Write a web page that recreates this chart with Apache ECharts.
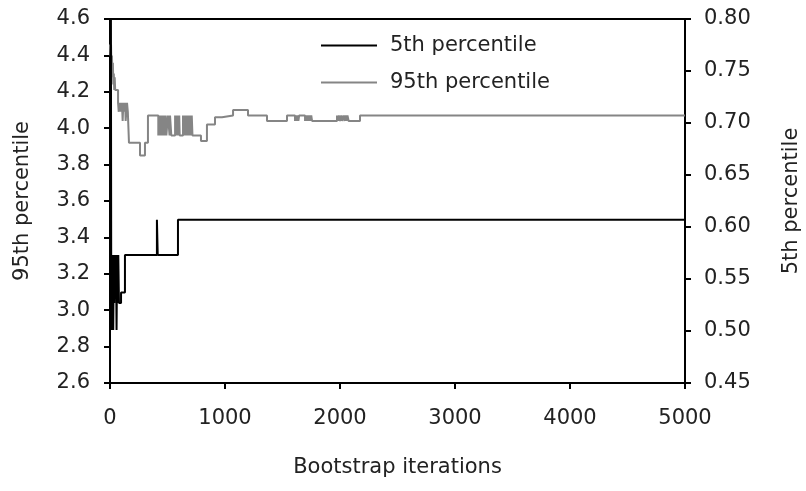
<!DOCTYPE html>
<html>
<head>
<meta charset="utf-8">
<script src="https://cdn.jsdelivr.net/npm/echarts@6/dist/echarts.min.js"></script>
<style>html,body{margin:0;padding:0;background:#fff;}#c{width:806px;height:491px;}</style>
</head>
<body>
<div id="c"></div>
<script>
// Data: [bootstrap iteration, value]
var xTicks = [0, 1000, 2000, 3000, 4000, 5000];
var leftTicks = [2.6, 2.8, 3.0, 3.2, 3.4, 3.6, 3.8, 4.0, 4.2, 4.4, 4.6];
var rightTicks = [0.45, 0.50, 0.55, 0.60, 0.65, 0.70, 0.75, 0.80];

var p5 = [
  [1,0.80],[5,0.78],[8,0.80],[11,0.501],[16,0.573],[20,0.537],[24,0.573],[28,0.501],
  [33,0.573],[37,0.527],[42,0.573],[47,0.537],[52,0.573],[57,0.501],[62,0.573],[67,0.527],
  [72,0.573],[78,0.527],[96,0.537],[130,0.573],[408,0.607],[415,0.573],[591,0.607],[5000,0.607]
];

var p95 = [
  [1,4.46],[5,4.40],[9,4.46],[13,4.33],[17,4.40],[21,4.28],[25,4.36],[29,4.24],[33,4.30],
  [37,4.21],[41,4.28],[45,4.21],[70,4.14],[76,4.09],[80,4.14],[84,4.09],[88,4.14],[92,4.09],
  [96,4.14],[100,4.09],[104,4.14],[110,4.04],[116,4.14],[120,4.09],[124,4.14],[128,4.09],
  [132,4.14],[136,4.04],[142,4.09],[148,4.14],[155,4.09],[165,3.92],[261,3.85],[304,3.92],
  [330,4.07],[420,3.96],[428,4.07],[434,3.96],[442,4.07],[448,3.96],[456,4.07],[462,3.96],
  [470,4.07],[476,3.96],[484,4.07],[490,3.96],[504,4.07],[518,3.96],[522,4.07],[533,3.96],
  [566,4.07],[572,3.96],[578,4.07],[584,3.96],[590,4.07],[596,3.96],[602,4.07],[606,3.96],
  [635,4.07],[641,3.96],[647,4.07],[653,3.96],[660,4.07],[666,3.96],[672,4.07],[678,3.96],
  [685,4.07],[691,3.96],[698,4.07],[704,3.96],[711,4.07],[717,3.96],[791,3.93],[843,4.02],
  [913,4.06],[974,4.07],[1070,4.10],[1200,4.07],[1365,4.04],[1539,4.07],[1609,4.04],
  [1616,4.07],[1622,4.04],[1630,4.07],[1638,4.04],[1645,4.07],[1696,4.04],[1703,4.07],
  [1710,4.04],[1718,4.07],[1726,4.04],[1734,4.07],[1742,4.04],[1750,4.07],[1757,4.04],
  [1974,4.07],[1982,4.04],[1990,4.07],[2000,4.04],[2010,4.07],[2018,4.04],[2030,4.07],
  [2040,4.04],[2048,4.07],[2056,4.04],[2065,4.07],[2075,4.04],[2174,4.07],[5000,4.07]
];

var FONT = 'DejaVu Sans';
var TXT = '#222';
var chart = echarts.init(document.getElementById('c'), null, {renderer: 'canvas'});
chart.setOption({
  animation: false,
  backgroundColor: '#fff',
  textStyle: {fontFamily: FONT},
  grid: {left: 110, right: 121, top: 19, bottom: 108, outerBoundsMode: 'none', containLabel: false,
         show: true, borderColor: '#000', borderWidth: 2, backgroundColor: 'transparent'},
  legend: {
    orient: 'vertical', left: 316, top: 30, itemWidth: 56, itemHeight: 2, itemGap: 16,
    data: [{name: '5th percentile', icon: 'rect'}, {name: '95th percentile', icon: 'rect'}],
    textStyle: {fontFamily: FONT, fontSize: 21, color: TXT, padding: [0, 0, 0, 8]}
  },
  xAxis: {
    type: 'value', min: xTicks[0], max: xTicks[xTicks.length - 1], interval: 1000,
    name: 'Bootstrap iterations', nameLocation: 'middle', nameGap: 74,
    nameTextStyle: {fontFamily: FONT, fontSize: 21, color: TXT},
    axisLine: {show: true, lineStyle: {color: '#000', width: 2}},
    axisTick: {show: true, inside: false, length: 6, lineStyle: {color: '#000', width: 2}},
    axisLabel: {margin: 25, fontFamily: FONT, fontSize: 21, color: TXT, formatter: function (v) { return String(v); }},
    splitLine: {show: false}
  },
  yAxis: [{
    type: 'value', position: 'left', min: leftTicks[0], max: leftTicks[leftTicks.length - 1], interval: 0.2,
    name: '95th percentile', nameLocation: 'middle', nameGap: 77, nameRotate: 90,
    nameTextStyle: {fontFamily: FONT, fontSize: 21, color: TXT},
    axisLine: {show: true, lineStyle: {color: '#000', width: 2}},
    axisTick: {show: true, inside: false, length: 6, lineStyle: {color: '#000', width: 2}},
    axisLabel: {margin: 20, fontFamily: FONT, fontSize: 21, color: TXT, formatter: function (v) { return v.toFixed(1); }},
    splitLine: {show: false}
  }, {
    type: 'value', position: 'right', min: rightTicks[0], max: rightTicks[rightTicks.length - 1], interval: 0.05,
    name: '5th percentile', nameLocation: 'middle', nameGap: 96, nameRotate: 90,
    nameTextStyle: {fontFamily: FONT, fontSize: 21, color: TXT},
    axisLine: {show: true, lineStyle: {color: '#000', width: 2}},
    axisTick: {show: true, inside: false, length: 6, lineStyle: {color: '#000', width: 2}},
    axisLabel: {margin: 19, fontFamily: FONT, fontSize: 21, color: TXT, formatter: function (v) { return v.toFixed(2); }},
    splitLine: {show: false}
  }],
  series: [{
    name: '95th percentile', type: 'line', yAxisIndex: 0, step: 'end', symbol: 'none',
    data: p95, lineStyle: {color: '#858585', width: 2}, itemStyle: {color: '#858585'}, z: 2
  }, {
    name: '5th percentile', type: 'line', yAxisIndex: 1, step: 'end', symbol: 'none',
    data: p5, lineStyle: {color: '#000', width: 2}, itemStyle: {color: '#000'}, z: 3
  }]
});
</script>
</body>
</html>
